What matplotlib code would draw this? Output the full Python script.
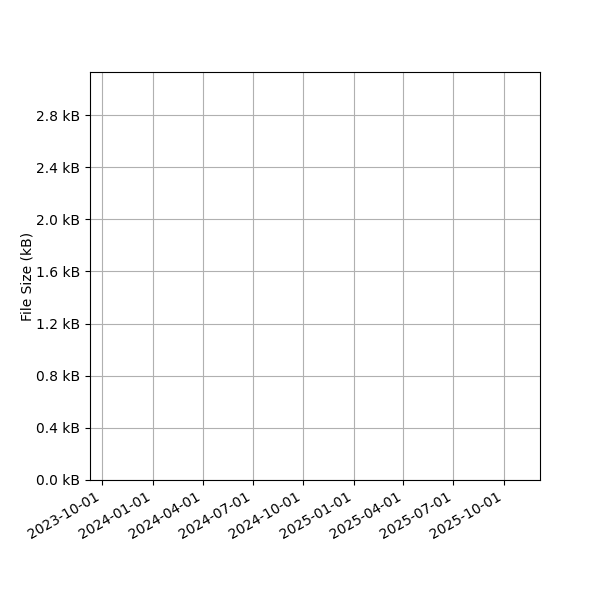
import matplotlib
matplotlib.use("Agg")
import matplotlib.pyplot as plt
import matplotlib.dates as mdates
from matplotlib.ticker import FuncFormatter
import datetime as dt

# axis ranges (no visible series in the reference)
x_start = dt.date(2023, 9, 9)
x_end = dt.date(2025, 12, 6)
y_max_kb = 3.13
y_ticks_kb = [0.0, 0.4, 0.8, 1.2, 1.6, 2.0, 2.4, 2.8]

fig, ax = plt.subplots(figsize=(6, 6), dpi=100)
fig.subplots_adjust(left=0.15, right=0.9, top=0.88, bottom=0.2)

ax.set_xlim(x_start, x_end)
ax.set_ylim(0, y_max_kb)
ax.set_yticks(y_ticks_kb)
ax.yaxis.set_major_formatter(FuncFormatter(lambda v, p: f"{v:.1f} kB"))

ax.xaxis.set_major_locator(mdates.MonthLocator(bymonth=[1, 4, 7, 10]))
ax.xaxis.set_major_formatter(mdates.DateFormatter("%Y-%m-%d"))
plt.setp(ax.get_xticklabels(), rotation=30, ha="right")

ax.set_ylabel("File Size (kB)", labelpad=1)
ax.grid(True)

fig.savefig("out.png")
